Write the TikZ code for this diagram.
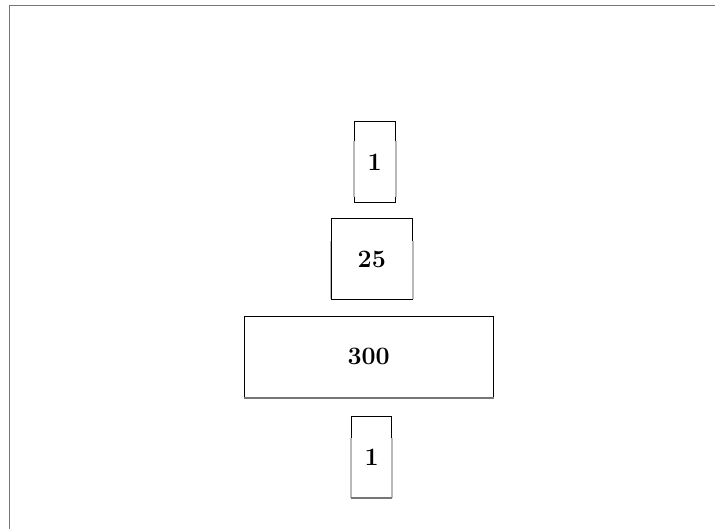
\documentclass[tikz,border=0pt]{standalone}
\usetikzlibrary{positioning}
\definecolor{framegray}{RGB}{118,118,118}
\definecolor{edgegray}{RGB}{185,185,185}

\begin{document}
\begin{tikzpicture}[x=0.5pt, y=-0.5pt,
    blk/.style={draw=black, line width=0.5pt, inner sep=0pt,
        font=\fontsize{12.5}{14}\selectfont\bfseries},
    sidemark/.style={edgegray, line width=0.9pt}]

\useasboundingbox (0,0) rectangle (715,529);

% ============================================================
% MARCO (arriba e izquierda)
% ============================================================
\draw[framegray, line width=0.8pt] (9.5,529) -- (9.5,5.5) -- (715,5.5);

% ============================================================
% BLOQUES
% ============================================================
\node[blk, minimum width=20.5pt, minimum height=40.5pt] (top1) at (374.6,162.2) {1};
\node[blk, minimum width=40.8pt, minimum height=40.8pt] (mid25) at (371.8,259.1) {25};
\node[blk, minimum width=124.6pt, minimum height=40.6pt] (big300) at (368.7,356.6) {300};
\node[blk, minimum width=20pt, minimum height=40.8pt] (bot1) at (371.7,456.8) {1};

% ============================================================
% BORDES GRISES (laterales)
% ============================================================
\draw[sidemark] ([yshift=-10pt]top1.north west) -- ([yshift=3pt]top1.south west);
\draw[sidemark] ([yshift=-10pt]top1.north east) -- ([yshift=3pt]top1.south east);

\draw[sidemark] ([yshift=-11.7pt]mid25.north west) -- ([yshift=0.5pt]mid25.south west);
\draw[sidemark] ([yshift=-11.7pt]mid25.north east) -- ([yshift=0.5pt]mid25.south east);

\draw[framegray, line width=0.8pt] (big300.south west) -- (big300.south east);

\draw[sidemark] ([yshift=-11pt]bot1.north west) -- (bot1.south west);
\draw[sidemark] ([yshift=-11pt]bot1.north east) -- (bot1.south east);
\draw[framegray, line width=0.8pt] (bot1.south west) -- (bot1.south east);

\end{tikzpicture}
\end{document}
